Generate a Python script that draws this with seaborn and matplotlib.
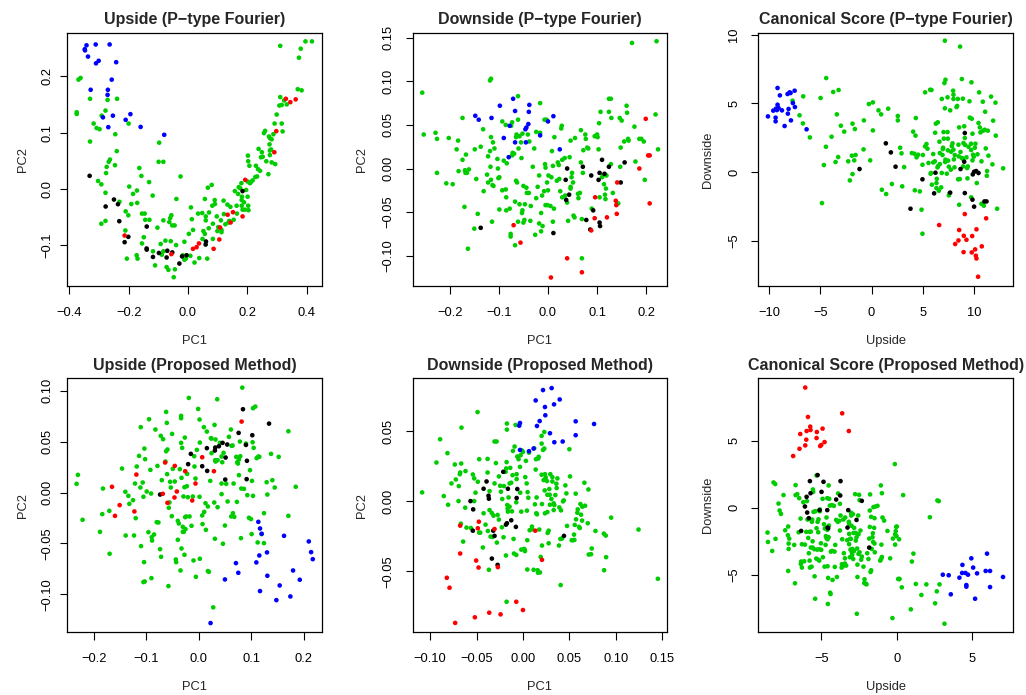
import matplotlib
matplotlib.use("Agg")
import matplotlib.pyplot as plt
import seaborn as sns
import pandas as pd

# ---------------- Data ----------------
# Panel 1: Upside (P-type Fourier)
up_pf_blue = [(-0.342, 0.255), (-0.348, 0.248), (-0.347, 0.246), (-0.337, 0.235), (-0.311, 0.2565),
              (-0.264, 0.2565), (-0.301, 0.2275), (-0.310, 0.223), (-0.242, 0.225), (-0.257, 0.194),
              (-0.328, 0.176), (-0.270, 0.176), (-0.271, 0.167), (-0.2865, 0.127), (-0.253, 0.130),
              (-0.2685, 0.1096), (-0.194, 0.1327), (-0.210, 0.1226), (-0.1596, 0.110), (-0.080, 0.096)]
up_pf_black = [(-0.3315, 0.0231), (-0.2775, -0.0314), (-0.2494, -0.019), (-0.236, -0.0273), (-0.2315, -0.0575),
               (-0.201, -0.0853), (-0.2135, -0.0948), (-0.139, -0.067), (-0.1393, -0.106), (-0.139, -0.108),
               (-0.118, -0.121), (-0.098, -0.114), (-0.072, -0.122), (-0.0697, -0.110), (-0.053, -0.113),
               (-0.020, -0.120), (-0.0045, -0.118), (-0.029, -0.1327), (0.0607, -0.0936), (0.0596, -0.099),
               (0.184, -0.004)]
up_pf_red = [(-0.2135, -0.083), (-0.056, -0.116), (0.0169, -0.1066), (0.029, -0.1037), (0.037, -0.097),
             (0.0865, -0.1066), (0.1056, -0.090), (0.108, -0.0687), (0.1337, -0.046), (0.1438, -0.0598),
             (0.1517, -0.0415), (0.184, -0.049), (0.193, 0.016), (0.291, 0.065), (0.2977, 0.1025),
             (0.330, 0.160), (0.345, 0.154), (0.363, 0.159)]
up_pf_green = [(-0.362, 0.197), (-0.369, 0.194), (-0.375, 0.136), (-0.375, 0.133), (-0.330, 0.160), (-0.330, 0.084),
               (-0.318, 0.116), (-0.308, 0.108), (-0.298, 0.106), (-0.291, 0.130), (-0.278, 0.139), (-0.271, 0.158),
               (-0.239, 0.160), (-0.200, 0.116), (-0.245, 0.097), (-0.240, 0.067), (-0.097, 0.082), (-0.099, 0.048),
               (-0.083, 0.048), (-0.263, 0.052), (-0.267, 0.048), (-0.274, 0.039), (-0.246, 0.042), (-0.276, 0.028),
               (-0.303, 0.014), (-0.292, 0.008), (-0.278, -0.007), (-0.292, -0.062), (-0.278, -0.057), (-0.231, -0.023),
               (-0.210, -0.040), (-0.201, -0.047), (-0.198, 0.004), (-0.185, -0.009), (-0.172, -0.003), (-0.191, -0.027),
               (-0.171, -0.025), (-0.164, 0.037), (-0.157, 0.023), (-0.131, 0.012), (-0.119, -0.012), (-0.155, -0.044),
               (-0.146, -0.044), (-0.144, -0.055), (-0.130, -0.055), (-0.103, -0.069), (-0.083, -0.056), (-0.063, -0.059),
               (-0.056, -0.047), (-0.060, -0.052), (-0.053, -0.065), (-0.045, -0.065), (-0.211, -0.074), (-0.206, -0.124),
               (-0.173, -0.118), (-0.170, -0.124), (-0.155, -0.097), (-0.149, -0.086), (-0.118, -0.111), (-0.111, -0.136),
               (-0.092, -0.098), (-0.083, -0.111), (-0.088, -0.117), (-0.076, -0.092), (-0.058, -0.093), (-0.072, -0.139),
               (-0.066, -0.144), (-0.048, -0.157), (-0.044, -0.143), (-0.040, -0.100), (-0.039, -0.018), (-0.025, 0.022),
               (-0.017, -0.118), (-0.012, -0.094), (-0.012, -0.126), (-0.007, -0.124), (0.003, -0.080), (0.010, -0.033),
               (0.013, -0.054), (0.017, -0.073), (0.008, -0.119), (0.022, -0.131), (0.034, -0.044), (0.038, -0.123),
               (0.048, -0.043), (0.049, -0.089), (0.052, -0.075), (0.057, -0.080), (0.065, -0.124), (0.057, -0.018),
               (0.060, -0.049), (0.060, -0.056), (0.067, 0.002), (0.070, -0.070), (0.071, -0.042), (0.080, 0.007),
               (0.082, -0.030), (0.084, -0.062), (0.091, -0.027), (0.084, -0.089), (0.090, -0.020), (0.097, -0.049),
               (0.099, -0.075), (0.102, -0.068), (0.111, -0.056), (0.113, -0.073), (0.113, -0.077), (0.120, -0.021),
               (0.121, -0.045), (0.126, -0.063), (0.133, -0.028), (0.136, -0.060), (0.139, -0.057), (0.143, -0.032),
               (0.154, -0.055), (0.158, -0.004), (0.164, -0.030), (0.165, -0.044), (0.169, -0.009), (0.171, 0.003),
               (0.176, 0.001), (0.180, 0.010), (0.181, -0.020), (0.181, -0.030), (0.182, -0.014), (0.184, -0.037),
               (0.189, -0.024), (0.192, -0.037), (0.196, -0.002), (0.201, -0.014), (0.201, 0.013), (0.202, 0.059),
               (0.203, 0.049), (0.203, -0.030), (0.204, -0.038), (0.207, 0.041), (0.209, 0.010), (0.212, 0.012),
               (0.218, 0.015), (0.227, 0.021), (0.229, 0.041), (0.233, 0.022), (0.236, 0.035), (0.238, 0.071),
               (0.243, 0.032), (0.246, 0.056), (0.249, 0.065), (0.252, 0.057), (0.260, 0.103), (0.271, 0.026),
               (0.273, 0.093), (0.276, 0.090), (0.275, 0.079), (0.282, 0.088), (0.280, 0.070), (0.282, 0.047),
               (0.288, 0.097), (0.294, 0.044), (0.292, 0.116), (0.299, 0.132), (0.308, 0.148), (0.311, 0.254),
               (0.316, 0.149), (0.316, 0.116), (0.319, 0.102), (0.324, 0.157), (0.333, 0.150), (0.370, 0.177),
               (0.374, 0.233), (0.380, 0.249), (0.383, 0.175), (0.396, 0.262), (0.418, 0.262), (0.311, 0.163),
               (0.276, 0.060), (0.276, 0.068), (0.264, 0.049), (0.256, 0.099)]

# Panel 2: Downside (P-type Fourier)
dn_pf_blue = [(-0.148, 0.0605), (-0.141, 0.056), (-0.115, 0.058), (-0.098, 0.072), (-0.071, 0.080), (-0.067, 0.066),
              (-0.038, 0.073), (-0.039, 0.065), (-0.040, 0.051), (-0.044, 0.047), (-0.046, 0.045), (-0.078, 0.049),
              (-0.090, 0.035), (-0.067, 0.030), (-0.045, 0.030), (-0.016, 0.038), (0.000, 0.054), (0.011, 0.060),
              (0.024, 0.022), (-0.080, 0.013)]
dn_pf_black = [(0.110, 0.010), (0.124, 0.002), (0.156, 0.007), (0.071, 0.002), (0.039, -0.000), (0.088, -0.008),
               (0.105, -0.005), (0.115, -0.006), (0.103, -0.013), (0.148, -0.016), (0.036, -0.013), (0.043, -0.030),
               (0.037, -0.036), (0.092, -0.048), (0.078, -0.059), (0.105, -0.062), (0.106, -0.066), (0.086, -0.070),
               (-0.137, -0.068), (0.011, -0.074)]
dn_pf_red = [(0.199, 0.057), (0.204, 0.015), (0.207, 0.015), (0.186, 0.000), (0.141, -0.016), (0.096, -0.033),
             (0.138, -0.037), (0.139, -0.042), (0.207, -0.040), (0.140, -0.052), (0.120, -0.056), (0.095, -0.057),
             (0.088, -0.071), (-0.070, -0.065), (-0.056, -0.085), (0.039, -0.103), (0.069, -0.119), (0.006, -0.125)]
dn_pf_green = [(-0.256, 0.087), (-0.253, 0.039), (-0.229, 0.041), (-0.226, 0.034), (-0.226, -0.005), (-0.207, -0.017),
               (-0.202, 0.035), (-0.194, -0.018), (-0.186, 0.022), (-0.183, 0.032), (-0.182, -0.003), (-0.174, 0.058),
               (-0.174, 0.010), (-0.170, -0.044), (-0.169, -0.002), (-0.168, -0.005), (-0.167, 0.016), (-0.165, -0.005),
               (-0.163, -0.092), (-0.161, -0.001), (-0.150, -0.069), (-0.149, 0.022), (-0.146, -0.012), (-0.143, -0.052),
               (-0.137, 0.025), (-0.132, 0.045), (-0.131, -0.026), (-0.124, -0.007), (-0.122, 0.014), (-0.122, -0.016),
               (-0.118, 0.101), (-0.116, 0.103), (-0.118, 0.020), (-0.117, 0.002), (-0.116, 0.036), (-0.116, -0.013),
               (-0.114, -0.061), (-0.113, -0.019), (-0.112, 0.030), (-0.111, -0.020), (-0.109, 0.023), (-0.103, 0.011),
               (-0.102, -0.000), (-0.101, -0.011), (-0.099, -0.047), (-0.099, -0.010), (-0.093, 0.054), (-0.093, -0.025),
               (-0.090, 0.009), (-0.086, 0.050), (-0.086, -0.024), (-0.085, -0.048), (-0.085, -0.033), (-0.084, 0.006),
               (-0.078, -0.046), (-0.076, -0.078), (-0.076, -0.075), (-0.075, 0.049), (-0.073, 0.053), (-0.073, 0.015),
               (-0.072, 0.018), (-0.069, 0.017), (-0.067, -0.038), (-0.067, -0.088), (-0.065, 0.036), (-0.065, -0.014),
               (-0.064, 0.039), (-0.063, -0.016), (-0.061, 0.083), (-0.061, -0.061), (-0.061, 0.056), (-0.060, 0.023),
               (-0.058, 0.037), (-0.058, -0.041), (-0.055, 0.030), (-0.054, 0.012), (-0.053, -0.051), (-0.052, 0.040),
               (-0.052, -0.048), (-0.050, -0.020), (-0.050, -0.062), (-0.048, -0.059), (-0.047, -0.041), (-0.044, -0.022),
               (-0.043, -0.028), (-0.041, 0.039), (-0.039, -0.028), (-0.038, 0.031), (-0.036, -0.060), (-0.035, -0.043),
               (-0.031, 0.002), (-0.028, 0.023), (-0.026, -0.076), (-0.024, 0.042), (-0.024, -0.034), (-0.021, -0.021),
               (-0.018, -0.008), (-0.018, -0.063), (-0.016, 0.075), (-0.016, 0.041), (-0.014, -0.072), (-0.014, -0.051),
               (-0.012, -0.031), (-0.011, -0.066), (-0.008, -0.026), (-0.007, 0.056), (-0.006, 0.005), (-0.005, 0.001),
               (-0.005, -0.042), (-0.003, 0.056), (-0.002, -0.016), (-0.001, -0.042), (0.000, -0.025), (0.001, -0.008),
               (0.005, -0.043), (0.007, -0.010), (0.008, 0.020), (0.010, 0.003), (0.010, -0.061), (0.012, -0.046),
               (0.013, 0.036), (0.018, -0.014), (0.020, 0.007), (0.022, 0.004), (0.023, -0.012), (0.025, -0.026),
               (0.027, 0.046), (0.028, 0.049), (0.029, 0.010), (0.029, -0.033), (0.034, 0.012), (0.035, -0.031),
               (0.039, -0.039), (0.041, -0.060), (0.044, 0.013), (0.046, -0.021), (0.046, 0.032), (0.048, -0.010),
               (0.049, -0.005), (0.051, -0.016), (0.052, -0.054), (0.055, 0.035), (0.062, -0.034), (0.065, -0.028),
               (0.067, 0.044), (0.067, 0.007), (0.069, -0.058), (0.069, -0.103), (0.071, -0.005), (0.072, 0.021),
               (0.076, 0.039), (0.077, 0.034), (0.082, 0.023), (0.089, -0.046), (0.095, 0.037), (0.099, 0.038),
               (0.100, 0.039), (0.101, 0.036), (0.103, 0.022), (0.104, 0.052), (0.105, -0.033), (0.107, 0.065),
               (0.110, -0.010), (0.112, -0.008), (0.114, -0.018), (0.116, -0.030), (0.117, -0.035), (0.119, -0.008),
               (0.124, 0.065), (0.124, 0.080), (0.128, 0.080), (0.129, 0.058), (0.128, 0.005), (0.132, -0.028),
               (0.143, -0.040), (0.146, 0.058), (0.147, 0.002), (0.148, 0.024), (0.150, 0.055), (0.155, 0.031),
               (0.160, 0.072), (0.161, 0.064), (0.163, 0.034), (0.164, 0.032), (0.176, 0.048), (0.178, 0.008),
               (0.171, 0.144), (0.186, 0.034), (0.190, 0.034), (0.197, -0.013), (0.195, 0.031), (0.219, 0.062),
               (0.221, 0.146), (0.224, 0.022), (0.118, -0.023), (0.080, 0.024), (0.046, -0.023), (0.061, -0.029),
               (0.054, -0.056)]

# Panel 3: Canonical Score (P-type Fourier)
cs_pf_blue = [(-9.19, 6.12), (-8.96, 5.58), (-9.35, 4.61), (-9.25, 4.51), (-9.61, 4.47), (-9.19, 4.90), (-9.09, 4.66),
              (-8.76, 4.49), (-9.38, 3.96), (-10.13, 4.05), (-9.38, 3.69), (-8.50, 3.35), (-8.11, 4.59), (-8.18, 4.25),
              (-7.88, 3.76), (-7.49, 4.73), (-7.69, 5.02), (-8.21, 5.68), (-8.01, 5.80), (-7.92, 5.75), (-7.52, 5.92),
              (-6.35, 3.11)]
cs_pf_black = [(1.40, 2.09), (1.89, 1.43), (2.35, 0.39), (-1.17, 0.22), (9.12, 2.84), (9.06, 0.75), (8.70, 0.22),
               (9.90, -0.17), (10.03, 0.02), (10.46, -0.07), (10.23, 0.07), (6.25, -0.05), (4.98, -0.53), (6.12, -1.55),
               (7.69, -1.50), (9.12, -1.53), (9.87, -2.01), (10.03, -2.52), (11.04, -2.14), (11.24, -2.14), (3.81, -2.67)]
cs_pf_red = [(11.21, -3.37), (9.12, -3.06), (6.61, -3.86), (8.57, -4.22), (10.26, -4.17), (9.02, -4.64), (9.28, -4.93),
             (9.84, -4.66), (8.50, -4.98), (8.18, -5.24), (10.78, -5.41), (10.13, -5.63), (9.00, -5.83), (9.80, -5.85),
             (10.20, -6.09), (10.26, -6.29), (10.42, -7.62)]
cs_pf_green = [(-7.72, 5.19), (-6.68, 5.51), (-7.04, 4.13), (-6.71, 3.54), (-6.03, 2.52), (-4.98, 5.39), (-4.43, 6.84),
               (-4.46, 1.84), (-4.66, 0.51), (-4.85, -2.26), (-3.91, 2.57), (-3.75, 5.83), (-3.22, 5.97), (-3.39, 4.20),
               (-3.00, 3.37), (-2.67, 2.94), (-3.52, 0.73), (-3.26, 1.09), (-2.28, 0.78), (-2.12, -0.61), (-1.86, -0.15),
               (-1.92, 1.19), (-1.69, 0.85), (-1.56, 1.24), (-1.86, 3.52), (-1.63, 3.13), (-0.75, 3.76), (-0.78, 1.65),
               (-0.26, 4.95), (0.13, 5.07), (-0.13, 0.85), (0.13, 3.03), (0.68, 4.49), (0.94, 4.20), (1.63, 4.61),
               (1.01, -1.29), (1.43, -1.60), (1.99, -0.87), (2.57, 4.08), (2.57, 3.76), (2.80, 1.77), (2.93, 1.36),
               (3.00, -1.04), (3.19, 0.36), (4.07, 2.94), (4.33, 3.93), (4.30, 2.65), (3.94, 1.38), (4.20, 1.33),
               (4.23, -1.33), (4.72, -1.41), (4.89, -2.74), (4.98, -4.49), (4.40, 1.07), (4.56, 1.26), (4.98, 0.53),
               (5.02, 1.24), (5.24, 5.80), (5.37, 2.04), (5.24, 1.87), (5.47, 1.70), (5.73, 5.99), (5.86, 5.97),
               (5.57, 0.66), (5.83, -0.07), (5.77, -0.12), (6.03, 1.31), (6.03, 0.70), (6.22, 2.86), (6.29, 3.52),
               (6.35, -1.17), (6.35, -0.80), (6.48, 3.62), (6.38, -0.49), (6.58, -1.36), (6.51, 0.44), (6.64, 2.21),
               (6.45, 0.34), (6.68, 0.58), (6.68, 1.38), (6.87, 5.32), (6.94, 1.24), (6.97, 1.67), (7.00, 1.77),
               (7.13, 6.48), (7.17, 4.64), (7.23, 6.72), (7.04, 2.91), (7.07, 2.43), (7.20, 0.73), (7.23, 0.90),
               (7.17, 9.56), (7.43, 5.44), (7.43, 2.91), (7.46, 2.43), (7.46, 1.58), (7.49, 0.83), (7.56, 0.39),
               (7.62, -1.53), (7.69, 4.49), (7.78, 1.48), (7.85, 1.89), (7.92, 2.09), (7.98, 5.92), (8.01, 5.63),
               (8.01, 5.32), (8.01, 1.63), (8.05, 0.92), (8.11, 0.34), (8.14, 1.24), (8.31, 4.73), (8.37, 4.81),
               (8.44, 5.32), (8.50, 1.99), (8.47, -0.53), (8.53, 1.14), (8.57, 3.25), (8.66, 9.13), (8.70, 1.46),
               (8.83, 6.77), (8.83, 1.02), (8.93, 5.34), (8.93, 0.97), (8.96, 0.41), (8.99, 2.11), (9.06, 3.33),
               (9.12, 2.48), (9.15, 1.97), (9.28, 1.07), (9.35, 0.29), (9.41, 0.41), (9.48, 1.84), (9.58, 5.15),
               (9.61, 3.96), (9.74, 1.60), (9.74, 2.06), (9.77, 6.53), (9.80, 3.88), (9.87, 2.79), (9.93, 1.26),
               (10.00, 1.12), (10.10, 1.77), (10.16, 2.06), (10.29, -0.80), (10.36, 1.29), (10.46, 3.57), (10.52, 5.80),
               (10.59, 3.25), (10.65, 2.89), (10.75, -2.31), (10.88, 5.12), (10.91, 3.01), (11.07, 3.08), (11.11, 4.39),
               (11.17, 1.72), (11.27, -0.27), (11.30, 0.07), (11.37, 3.01), (11.43, 1.19), (11.69, 5.49), (11.82, 0.56),
               (11.89, 3.74), (12.12, 5.05), (12.15, 2.65), (12.28, -2.67), (12.87, 0.27), (6.19, 0.78), (6.87, -0.07),
               (7.36, -0.12), (7.75, 0.17), (8.63, -0.51), (9.38, -0.46), (9.87, 0.85), (10.75, 0.78), (5.90, -0.92),
               (6.81, -1.12), (8.57, -2.38), (9.74, -1.84), (10.98, -2.45), (7.56, -1.70)]

# Panel 4: Upside (Proposed Method)
up_pm_blue = [(0.1134, -0.0288), (0.1166, -0.0353), (0.1624, -0.0425), (0.1197, -0.0405), (0.2096, -0.0480),
              (0.2140, -0.0585), (0.2172, -0.0654), (0.1153, -0.0618), (0.1299, -0.0588), (0.1096, -0.0686),
              (0.0707, -0.0693), (0.0752, -0.0788), (0.0497, -0.0853), (0.1306, -0.0817), (0.1796, -0.0765),
              (0.1924, -0.0856), (0.1541, -0.0912), (0.1166, -0.0967), (0.1745, -0.1020), (0.1478, -0.1056),
              (0.0223, -0.1281)]
up_pm_black = [(0.0841, 0.0817), (0.1338, 0.0676), (0.0758, 0.0585), (0.1019, 0.0562), (0.0898, 0.0467),
               (0.0452, 0.0487), (0.0541, 0.0471), (0.0382, 0.0454), (0.0312, 0.0441), (0.0306, 0.0412),
               (0.0153, 0.0435), (-0.0153, 0.0379), (0.0510, 0.0343), (0.0917, 0.0311), (-0.0204, 0.0278),
               (0.0064, 0.0258), (0.0159, 0.0212), (0.0911, 0.0131), (0.0503, 0.0127), (-0.0739, -0.0020)]
up_pm_red = [(0.0815, 0.0696), (0.0064, 0.0346), (-0.0643, 0.0294), (-0.0459, 0.0261), (-0.0261, 0.0209),
             (0.0287, 0.0209), (-0.1191, 0.0176), (-0.0064, 0.0088), (-0.1656, 0.0056), (-0.0420, 0.0010),
             (-0.0688, -0.0013), (-0.0465, -0.0049), (-0.0127, -0.0078), (-0.0599, -0.0101), (-0.1510, -0.0124),
             (-0.1229, -0.0186), (-0.1599, -0.0229)]
up_pm_green = [(-0.2306, 0.0173), (-0.2331, 0.0085), (-0.2217, -0.0268), (-0.1885, -0.0386), (-0.1841, -0.0212),
               (-0.1828, 0.0039), (-0.1707, -0.0180), (-0.1701, -0.0601), (-0.1465, 0.0235), (-0.1401, 0.0007),
               (-0.1395, -0.0422), (-0.1344, -0.0033), (-0.1325, -0.0111), (-0.1255, -0.0075), (-0.1236, -0.0422),
               (-0.1217, 0.0088), (-0.1204, -0.0252), (-0.1185, 0.0255), (-0.1140, 0.0359), (-0.1108, 0.0641),
               (-0.1102, -0.0526), (-0.1115, 0.0049), (-0.1070, 0.0098), (-0.1057, -0.0042), (-0.1045, -0.0683),
               (-0.1057, -0.0879), (-0.1032, -0.0873), (-0.1038, 0.0431), (-0.1025, 0.0327), (-0.0994, 0.0010),
               (-0.0962, -0.0389), (-0.0949, 0.0719), (-0.0924, 0.0222), (-0.0911, -0.0010), (-0.0904, -0.0840),
               (-0.0892, -0.0471), (-0.0854, -0.0412), (-0.0828, 0.0618), (-0.0790, 0.0261), (-0.0771, -0.0294),
               (-0.0739, -0.0556), (-0.0726, 0.0556), (-0.0720, -0.0631), (-0.0707, 0.0121), (-0.0682, 0.0523),
               (-0.0637, 0.0304), (-0.0624, 0.0791), (-0.0611, 0.0683), (-0.0624, 0.0405), (-0.0605, 0.0180),
               (-0.0599, 0.0422), (-0.0580, -0.0918), (-0.0573, -0.0150), (-0.0561, -0.0098), (-0.0548, 0.0105),
               (-0.0535, 0.0049), (-0.0510, 0.0575), (-0.0497, 0.0232), (-0.0459, 0.0108), (-0.0439, -0.0657),
               (-0.0433, -0.0683), (-0.0401, -0.0278), (-0.0401, -0.0464), (-0.0382, -0.0304), (-0.0363, 0.0229),
               (-0.0350, -0.0765), (-0.0338, 0.0487), (-0.0338, 0.0729), (-0.0338, 0.0752), (-0.0331, -0.0549),
               (-0.0331, 0.0144), (-0.0318, 0.0438), (-0.0306, -0.0337), (-0.0293, -0.0039), (-0.0287, -0.0386),
               (-0.0274, 0.0052), (-0.0274, -0.0611), (-0.0268, 0.0539), (-0.0261, -0.0242), (-0.0255, -0.0359),
               (-0.0242, -0.0235), (-0.0229, 0.0062), (-0.0223, 0.0183), (-0.0210, -0.0046), (-0.0191, 0.0928),
               (-0.0178, -0.0235), (-0.0140, -0.0327), (-0.0115, -0.0039), (-0.0102, -0.0667), (-0.0089, 0.0356),
               (-0.0083, 0.0255), (-0.0064, 0.0137), (-0.0057, -0.0827), (-0.0038, 0.0418), (-0.0013, 0.0820),
               (0.0013, 0.0716), (0.0013, -0.0042), (0.0019, 0.0490), (0.0019, -0.0650), (0.0064, -0.0225),
               (0.0070, -0.0310), (0.0096, 0.0641), (0.0102, -0.0190), (0.0134, -0.0366), (0.0127, -0.0105),
               (0.0153, 0.0598), (0.0172, -0.0771), (0.0191, -0.0778), (0.0172, -0.0137), (0.0217, 0.0114),
               (0.0229, 0.0533), (0.0242, 0.0529), (0.0242, 0.0386), (0.0274, -0.1127), (0.0293, -0.0098),
               (0.0299, 0.0663), (0.0306, -0.0454), (0.0312, 0.0317), (0.0318, 0.0520), (0.0350, 0.0915),
               (0.0357, -0.0144), (0.0357, 0.0317), (0.0401, 0.0487), (0.0433, 0.0353), (0.0433, 0.0088),
               (0.0446, 0.0297), (0.0433, -0.0016), (0.0459, -0.0503), (0.0471, 0.0389), (0.0497, -0.0324),
               (0.0522, 0.0085), (0.0548, -0.0088), (0.0573, 0.0546), (0.0611, 0.0618), (0.0624, 0.0458),
               (0.0618, -0.0235), (0.0643, 0.0461), (0.0650, -0.0203), (0.0662, 0.0088), (0.0675, -0.0239),
               (0.0726, -0.0092), (0.0732, 0.0297), (0.0745, 0.0284), (0.0764, 0.0170), (0.0764, 0.0324),
               (0.0783, 0.0500), (0.0803, -0.0448), (0.0809, 0.0039), (0.0828, 0.1029), (0.0860, 0.0036),
               (0.0898, 0.0480), (0.0924, -0.0026), (0.0955, -0.0248), (0.0975, 0.0219), (0.0994, -0.0261),
               (0.1006, -0.0408), (0.1013, 0.0114), (0.1025, 0.0493), (0.1032, -0.0033), (0.1045, 0.0438),
               (0.1032, 0.0827), (0.1076, 0.0843), (0.1102, 0.0337), (0.1121, -0.0490), (0.1134, 0.0353),
               (0.1153, 0.0350), (0.1197, -0.0408), (0.1242, -0.0497), (0.1242, -0.0203), (0.1293, 0.0101),
               (0.1306, -0.0020), (0.1376, 0.0379), (0.1401, 0.0121), (0.1446, 0.0049), (0.1522, 0.0350),
               (0.1707, 0.0601), (0.1707, -0.0229), (0.1847, 0.0056), (0.0790, 0.0356), (0.0713, 0.0350),
               (0.0318, 0.0304), (-0.0516, -0.0232), (-0.0306, -0.0386), (-0.0803, -0.0291), (-0.0898, -0.0438)]

# Panel 5: Downside (Proposed Method)
dn_pm_blue = [(0.0216, 0.0794), (0.0309, 0.0808), (0.0137, 0.0720), (0.0237, 0.0673), (0.0335, 0.0692),
              (0.0396, 0.0727), (0.0241, 0.0614), (0.0180, 0.0573), (0.0151, 0.0538), (-0.0032, 0.0559),
              (-0.0040, 0.0540), (0.0291, 0.0486), (0.0338, 0.0422), (0.0428, 0.0427), (0.0568, 0.0571),
              (0.0766, 0.0552), (0.0568, 0.0472), (0.0115, 0.0377), (0.0065, 0.0358), (-0.0032, 0.0367)]
dn_pm_black = [(-0.0212, 0.0211), (-0.0392, 0.0142), (-0.0424, 0.0090), (-0.0371, 0.0040), (-0.0367, 0.0019),
               (-0.0162, 0.0090), (-0.0061, 0.0088), (-0.0068, 0.0024), (-0.0565, 0.0002), (-0.0536, -0.0057),
               (-0.0540, -0.0209), (-0.0320, -0.0209), (-0.0306, -0.0246), (-0.0183, -0.0166), (-0.0173, -0.0156),
               (-0.0126, -0.0135), (-0.0076, -0.0182), (0.0442, -0.0246), (-0.0335, -0.0408), (-0.0273, -0.0453)]
dn_pm_red = [(-0.0676, -0.0173), (-0.0475, -0.0145), (-0.0486, -0.0192), (-0.0306, -0.0197), (0.0133, -0.0209),
             (-0.0676, -0.0372), (-0.0504, -0.0422), (-0.0478, -0.0472), (-0.0270, -0.0469), (0.0205, -0.0417),
             (-0.0820, -0.0545), (-0.0791, -0.0616), (-0.0072, -0.0716), (0.0000, -0.0775), (-0.0363, -0.0794),
             (-0.0241, -0.0806), (-0.0518, -0.0827), (-0.0730, -0.0867)]
dn_pm_green = [(-0.1086, 0.0064), (-0.0932, 0.0277), (-0.0892, 0.0443), (-0.0853, 0.0038), (-0.0813, 0.0344),
               (-0.0806, -0.0024), (-0.0770, 0.0128), (-0.0734, 0.0263), (-0.0723, 0.0156), (-0.0694, 0.0002),
               (-0.0691, 0.0109), (-0.0680, 0.0194), (-0.0676, 0.0206), (-0.0665, 0.0270), (-0.0662, 0.0526),
               (-0.0669, -0.0159), (-0.0644, -0.0287), (-0.0622, -0.0045), (-0.0619, 0.0216), (-0.0608, -0.0187),
               (-0.0561, -0.0190), (-0.0540, 0.0192), (-0.0525, 0.0164), (-0.0525, 0.0002), (-0.0511, 0.0062),
               (-0.0489, 0.0637), (-0.0486, 0.0140), (-0.0471, 0.0301), (-0.0471, -0.0223), (-0.0460, -0.0223),
               (-0.0424, -0.0085), (-0.0432, -0.0329), (-0.0403, -0.0166), (-0.0381, 0.0206), (-0.0381, 0.0303),
               (-0.0378, -0.0211), (-0.0367, -0.0488), (-0.0360, -0.0062), (-0.0360, 0.0073), (-0.0349, -0.0251),
               (-0.0335, -0.0083), (-0.0327, -0.0254), (-0.0317, -0.0102), (-0.0306, 0.0427), (-0.0306, 0.0128),
               (-0.0291, 0.0273), (-0.0284, 0.0427), (-0.0281, -0.0294), (-0.0273, -0.0097), (-0.0259, -0.0130),
               (-0.0259, 0.0178), (-0.0245, 0.0111), (-0.0237, 0.0069), (-0.0227, -0.0185), (-0.0223, 0.0017),
               (-0.0209, -0.0256), (-0.0205, 0.0109), (-0.0187, 0.0211), (-0.0183, -0.0386), (-0.0180, 0.0235),
               (-0.0176, 0.0280), (-0.0176, -0.0716), (-0.0173, 0.0512), (-0.0173, 0.0555), (-0.0169, -0.0026),
               (-0.0165, -0.0052), (-0.0162, -0.0073), (-0.0155, 0.0028), (-0.0144, 0.0128), (-0.0144, -0.0038),
               (-0.0137, 0.0239), (-0.0126, 0.0133), (-0.0119, -0.0071), (-0.0112, 0.0187), (-0.0108, 0.0360),
               (-0.0101, -0.0268), (-0.0097, -0.0372), (-0.0090, 0.0391), (-0.0079, 0.0545), (-0.0072, -0.0382),
               (-0.0072, -0.0007), (-0.0068, 0.0194), (-0.0061, 0.0320), (-0.0047, 0.0301), (-0.0032, 0.0246),
               (-0.0029, 0.0062), (-0.0025, 0.0329), (-0.0018, -0.0073), (-0.0018, -0.0344), (-0.0011, 0.0363),
               (0.0000, 0.0353), (0.0011, -0.0339), (0.0018, -0.0344), (0.0022, -0.0355), (0.0025, 0.0173),
               (0.0032, 0.0289), (0.0040, 0.0128), (0.0043, -0.0066), (0.0047, -0.0277), (0.0047, -0.0486),
               (0.0050, 0.0066), (0.0058, 0.0026), (0.0065, 0.0348), (0.0072, -0.0206), (0.0097, -0.0199),
               (0.0115, -0.0488), (0.0122, 0.0379), (0.0129, -0.0021), (0.0137, 0.0227), (0.0140, 0.0301),
               (0.0144, -0.0085), (0.0147, 0.0028), (0.0151, -0.0092), (0.0158, -0.0491), (0.0162, -0.0509),
               (0.0165, 0.0306), (0.0169, 0.0318), (0.0176, -0.0201), (0.0183, -0.0507), (0.0191, -0.0396),
               (0.0201, 0.0412), (0.0201, 0.0467), (0.0201, 0.0190), (0.0205, -0.0019), (0.0205, -0.0315),
               (0.0216, 0.0367), (0.0223, 0.0152), (0.0230, 0.0495), (0.0230, 0.0377), (0.0237, 0.0194),
               (0.0237, -0.0085), (0.0245, 0.0171), (0.0259, 0.0145), (0.0263, -0.0076), (0.0263, 0.0047),
               (0.0266, -0.0225), (0.0277, -0.0299), (0.0277, -0.0209), (0.0284, 0.0088), (0.0288, 0.0047),
               (0.0291, -0.0024), (0.0295, 0.0194), (0.0306, 0.0017), (0.0317, 0.0173), (0.0317, 0.0142),
               (0.0331, -0.0062), (0.0331, -0.0014), (0.0338, -0.0026), (0.0349, 0.0045), (0.0360, 0.0126),
               (0.0363, 0.0095), (0.0371, 0.0164), (0.0388, -0.0315), (0.0392, -0.0043), (0.0403, -0.0268),
               (0.0406, -0.0597), (0.0410, -0.0064), (0.0421, -0.0265), (0.0432, 0.0000), (0.0439, 0.0007),
               (0.0457, 0.0114), (0.0468, 0.0057), (0.0475, -0.0175), (0.0500, 0.0372), (0.0507, 0.0178),
               (0.0525, -0.0277), (0.0540, -0.0277), (0.0554, -0.0275), (0.0558, -0.0168), (0.0568, 0.0055),
               (0.0572, -0.0128), (0.0586, -0.0081), (0.0590, -0.0057), (0.0604, -0.0182), (0.0612, -0.0190),
               (0.0619, -0.0019), (0.0626, -0.0095), (0.0637, -0.0137), (0.0640, -0.0038), (0.0662, 0.0133),
               (0.0669, -0.0031), (0.0698, -0.0156), (0.0705, 0.0085), (0.0709, -0.0379), (0.0734, -0.0377),
               (0.0741, -0.0336), (0.0781, -0.0211), (0.0871, -0.0230), (0.0874, -0.0491), (0.0892, -0.0244),
               (0.0896, -0.0398), (0.0950, -0.0116), (0.1245, -0.0201), (0.1453, -0.0552), (0.0234, 0.0078),
               (0.0550, -0.0237), (0.0097, -0.0180), (-0.0068, 0.0159)]

# Panel 6: Canonical Score (Proposed Method)
cs_pm_red = [(-6.07, 8.96), (-5.89, 6.77), (-3.62, 7.04), (-5.74, 6.05), (-5.98, 5.72), (-5.72, 5.80), (-5.30, 5.65),
             (-4.92, 5.90), (-3.18, 5.72), (-6.40, 5.50), (-6.00, 5.08), (-5.32, 5.20), (-6.07, 4.65), (-6.45, 4.40),
             (-5.01, 4.68), (-5.08, 4.60), (-4.79, 4.90), (-6.87, 3.86)]
cs_pm_black = [(-5.25, 2.44), (-5.76, 1.99), (-4.86, 1.94), (-3.73, 1.99), (-4.99, 1.19), (-5.72, 1.09), (-5.98, 0.82),
               (-3.75, 0.92), (-4.02, 0.62), (-2.32, 0.52), (-6.09, 0.10), (-5.12, -0.17), (-4.61, -0.17), (-3.22, -0.17),
               (-5.94, -0.35), (-5.83, -0.77), (-2.67, -0.90), (-4.59, -1.47), (-4.55, -1.52), (-3.27, -1.47),
               (-6.34, -1.72), (-1.83, -2.96)]
cs_pm_blue = [(3.05, -4.98), (3.44, -5.02), (4.15, -5.20), (4.33, -4.85), (4.35, -4.25), (4.55, -4.85), (4.72, -4.98),
              (4.94, -3.76), (5.06, -4.45), (5.32, -4.88), (5.89, -4.70), (5.98, -3.41), (6.18, -4.70), (4.61, -5.75),
              (4.61, -5.87), (3.58, -6.44), (5.19, -6.77), (6.18, -5.90), (7.04, -5.15)]
cs_pm_green = [(-8.57, -1.84), (-8.54, -2.54), (-8.26, -3.21), (-8.17, 1.89), (-8.06, 1.77), (-8.04, -2.31), (-7.84, 0.32),
               (-7.77, -0.20), (-7.68, -0.45), (-7.51, 0.95), (-7.40, -1.67), (-7.22, -2.04), (-7.20, -1.39), (-7.17, -2.66),
               (-7.17, -3.06), (-7.20, -4.70), (-7.13, -2.29), (-6.75, -5.62), (-6.80, -2.76), (-6.71, 1.69), (-6.71, 0.95),
               (-6.60, 1.02), (-6.47, 0.72), (-6.51, -1.82), (-6.38, -0.80), (-6.36, -4.18), (-6.34, -4.00), (-6.29, -2.71),
               (-6.29, -4.45), (-6.20, 0.42), (-6.14, -3.98), (-6.09, -2.74), (-6.00, -1.79), (-5.96, 0.50), (-5.92, -0.87),
               (-5.87, -2.24), (-5.83, -3.38), (-5.78, -1.79), (-5.78, -3.93), (-5.76, -4.45), (-5.70, -1.77), (-5.70, -2.96),
               (-5.65, -4.38), (-5.63, -1.04), (-5.61, -0.87), (-5.58, -2.49), (-5.58, -2.96), (-5.56, 1.37), (-5.54, 1.19),
               (-5.52, -0.30), (-5.47, -3.08), (-5.45, -5.10), (-5.41, -6.77), (-5.39, -0.25), (-5.34, -3.78), (-5.32, -1.52),
               (-5.32, 2.41), (-5.28, -3.11), (-5.25, -1.04), (-5.21, -1.82), (-5.19, -0.85), (-5.19, -3.88), (-5.14, -3.08),
               (-5.14, -3.93), (-5.10, -0.12), (-5.10, -0.25), (-5.03, -2.64), (-5.01, -3.13), (-4.92, 0.67), (-4.90, -3.68),
               (-4.83, -1.22), (-4.79, -4.38), (-4.77, -1.54), (-4.72, -2.76), (-4.70, -2.11), (-4.66, -0.72), (-4.66, -2.26),
               (-4.61, 0.72), (-4.61, -1.64), (-4.59, -2.34), (-4.59, -4.35), (-4.57, -7.16), (-4.55, -5.22), (-4.52, 1.67),
               (-4.52, -2.19), (-4.50, -1.32), (-4.48, 0.67), (-4.44, 0.17), (-4.42, -6.32), (-4.39, -6.42), (-4.37, -3.26),
               (-4.30, 0.20), (-4.28, -3.21), (-4.26, -5.37), (-4.17, 0.15), (-4.13, -3.26), (-4.11, -4.40), (-4.08, -2.76),
               (-4.02, -0.90), (-3.97, -5.15), (-3.91, -1.04), (-3.89, 1.07), (-3.82, -0.97), (-3.77, 0.30), (-3.77, -1.69),
               (-3.73, -0.57), (-3.66, -4.45), (-3.64, -4.20), (-3.62, -2.34), (-3.60, -4.38), (-3.55, -0.87), (-3.51, -3.38),
               (-3.44, -3.76), (-3.44, -4.15), (-3.42, -0.72), (-3.36, -4.30), (-3.29, -2.41), (-3.18, -1.04), (-3.16, -1.17),
               (-3.16, -2.71), (-3.16, -1.94), (-3.11, -3.68), (-3.09, -2.31), (-3.07, -3.11), (-3.05, -2.31), (-3.02, -0.37),
               (-3.02, -0.57), (-3.00, -1.34), (-2.98, -3.31), (-2.96, -3.51), (-2.94, -3.06), (-2.91, -0.47), (-2.89, -3.81),
               (-2.87, -1.87), (-2.85, -3.23), (-2.83, -1.49), (-2.76, 1.02), (-2.72, -1.87), (-2.72, -2.44), (-2.67, -2.19),
               (-2.65, -7.89), (-2.63, -3.03), (-2.61, -4.23), (-2.61, -5.15), (-2.56, -0.57), (-2.54, -1.97), (-2.54, -3.43),
               (-2.50, 0.97), (-2.47, -3.31), (-2.47, 0.57), (-2.41, -1.69), (-2.36, -3.86), (-2.32, -3.63), (-2.21, -4.38),
               (-2.16, -5.60), (-2.14, -5.32), (-2.05, -5.65), (-2.01, -5.70), (-1.96, -3.38), (-1.88, -3.81), (-1.83, -2.29),
               (-1.79, -0.20), (-1.79, -1.42), (-1.77, 1.00), (-1.74, -4.78), (-1.70, -4.65), (-1.70, -0.67), (-1.66, -3.06),
               (-1.61, -2.19), (-1.59, -1.89), (-1.57, -2.54), (-1.55, 0.05), (-1.50, -1.49), (-1.48, -0.77), (-1.48, -2.66),
               (-1.46, -3.31), (-1.41, 0.10), (-1.28, 0.15), (-1.10, -3.93), (-1.06, 1.67), (-1.04, -3.81), (-0.99, 1.09),
               (-1.02, -2.74), (-0.99, -3.66), (-0.95, -0.72), (-0.84, -0.95), (-0.62, -1.72), (-0.44, -3.76), (-0.29, -8.21),
               (-0.13, 3.26), (-0.11, -2.74), (-0.11, -1.97), (-0.07, -1.74), (-0.04, -1.42), (-0.02, -2.11), (0.00, -1.39),
               (0.09, -5.30), (0.15, -2.34), (0.15, -5.30), (0.18, -5.30), (0.33, -5.92), (0.42, 0.95), (0.93, -7.56),
               (1.00, -4.00), (1.10, -3.41), (1.26, -5.67), (1.63, -6.49), (1.96, -5.70), (2.19, -0.70), (2.54, -7.11),
               (2.65, -6.22), (2.69, 0.55), (2.78, 0.50), (2.83, -5.70), (3.16, -8.63), (-0.26, -2.29)]

titles = ["Upside (P\u2212type Fourier)", "Downside (P\u2212type Fourier)", "Canonical Score (P\u2212type Fourier)",
          "Upside (Proposed Method)", "Downside (Proposed Method)", "Canonical Score (Proposed Method)"]
xlabels = ["PC1", "PC1", "Upside", "PC1", "PC1", "Upside"]
ylabels = ["PC2", "PC2", "Downside", "PC2", "PC2", "Downside"]

xticks = [[-0.4, -0.2, 0.0, 0.2, 0.4], [-0.2, -0.1, 0.0, 0.1, 0.2], [-10, -5, 0, 5, 10],
          [-0.2, -0.1, 0.0, 0.1, 0.2], [-0.10, -0.05, 0.00, 0.05, 0.10, 0.15], [-5, 0, 5]]
xticklabels = [["\u22120.4", "\u22120.2", "0.0", "0.2", "0.4"], ["\u22120.2", "\u22120.1", "0.0", "0.1", "0.2"],
               ["\u221210", "\u22125", "0", "5", "10"], ["\u22120.2", "\u22120.1", "0.0", "0.1", "0.2"],
               ["\u22120.10", "\u22120.05", "0.00", "0.05", "0.10", "0.15"], ["\u22125", "0", "5"]]
yticks = [[-0.1, 0.0, 0.1, 0.2], [-0.10, -0.05, 0.00, 0.05, 0.10, 0.15], [-5, 0, 5, 10],
          [-0.10, -0.05, 0.00, 0.05, 0.10], [-0.05, 0.00, 0.05], [-5, 0, 5]]
yticklabels = [["\u22120.1", "0.0", "0.1", "0.2"], ["\u22120.10", "\u22120.05", "0.00", "0.05", "0.10", "0.15"],
               ["\u22125", "0", "5", "10"], ["\u22120.10", "\u22120.05", "0.00", "0.05", "0.10"],
               ["\u22120.05", "0.00", "0.05"], ["\u22125", "0", "5"]]

panels = [
    dict(green=up_pf_green, black=up_pf_black, red=up_pf_red, blue=up_pf_blue),
    dict(green=dn_pf_green, black=dn_pf_black, red=dn_pf_red, blue=dn_pf_blue),
    dict(green=cs_pf_green, black=cs_pf_black, red=cs_pf_red, blue=cs_pf_blue),
    dict(green=up_pm_green, black=up_pm_black, red=up_pm_red, blue=up_pm_blue),
    dict(green=dn_pm_green, black=dn_pm_black, red=dn_pm_red, blue=dn_pm_blue),
    dict(green=cs_pm_green, black=cs_pm_black, red=cs_pm_red, blue=cs_pm_blue),
]

# ---------------- Style / layout ----------------
sns.set_style("ticks")
plt.rcParams["font.family"] = ["Liberation Sans", "DejaVu Sans"]
plt.rcParams["axes.unicode_minus"] = True

palette = {"green": "#00CD00", "black": "#000000", "red": "#FF0000", "blue": "#0000FF"}
limits = [((-0.4067, 0.4516), (-0.1735, 0.2776)),
          ((-0.2755, 0.2429), (-0.1353, 0.1559)),
          ((-11.07, 13.83), (-8.33, 10.15)),
          ((-0.2508, 0.2347), (-0.1369, 0.1122)),
          ((-0.1188, 0.1555), (-0.0932, 0.0879)),
          ((-9.18, 7.70), (-9.25, 9.66))]
lefts = [0.0656, 0.4022, 0.7391]
bottoms = [0.5878, 0.0906]
W, H = 0.2482, 0.3653
ypads = [4.5, 7.5, 7.5]
ylabel_x = [-0.150, -0.174, -0.174]

fig = plt.figure(figsize=(10.26, 6.95), dpi=100)
for i, pdata in enumerate(panels):
    r, c = divmod(i, 3)
    ax = fig.add_axes([lefts[c], bottoms[r], W, H])
    rows = []
    for grp in ["green", "black", "red", "blue"]:
        for (xv, yv) in pdata[grp]:
            rows.append({"x": xv, "y": yv, "group": grp})
    df = pd.DataFrame(rows)
    sns.scatterplot(data=df, x="x", y="y", hue="group", palette=palette, s=11,
                    linewidth=0, legend=False, ax=ax)
    ax.set_xlim(*limits[i][0])
    ax.set_ylim(*limits[i][1])
    ax.set_xticks(xticks[i])
    ax.set_xticklabels(xticklabels[i])
    ax.set_yticks(yticks[i])
    ax.set_yticklabels(yticklabels[i], rotation=90, va="center")
    ax.tick_params(direction="out", length=5.4, width=0.8, labelsize=9.3, colors="black")
    ax.tick_params(axis="x", pad=9.5)
    ax.tick_params(axis="y", pad=ypads[c])
    for sp in ax.spines.values():
        sp.set_visible(True)
        sp.set_linewidth(0.9)
        sp.set_color("black")
    ax.set_title(titles[i], fontsize=11.5, fontweight="bold", pad=6)
    ax.set_xlabel(xlabels[i], fontsize=9.3)
    ax.set_ylabel(ylabels[i], fontsize=9.3)
    ax.xaxis.set_label_coords(0.5, -0.192)
    ax.yaxis.set_label_coords(ylabel_x[c], 0.5)
    ax.grid(False)

fig.savefig("out.png", dpi=100)
